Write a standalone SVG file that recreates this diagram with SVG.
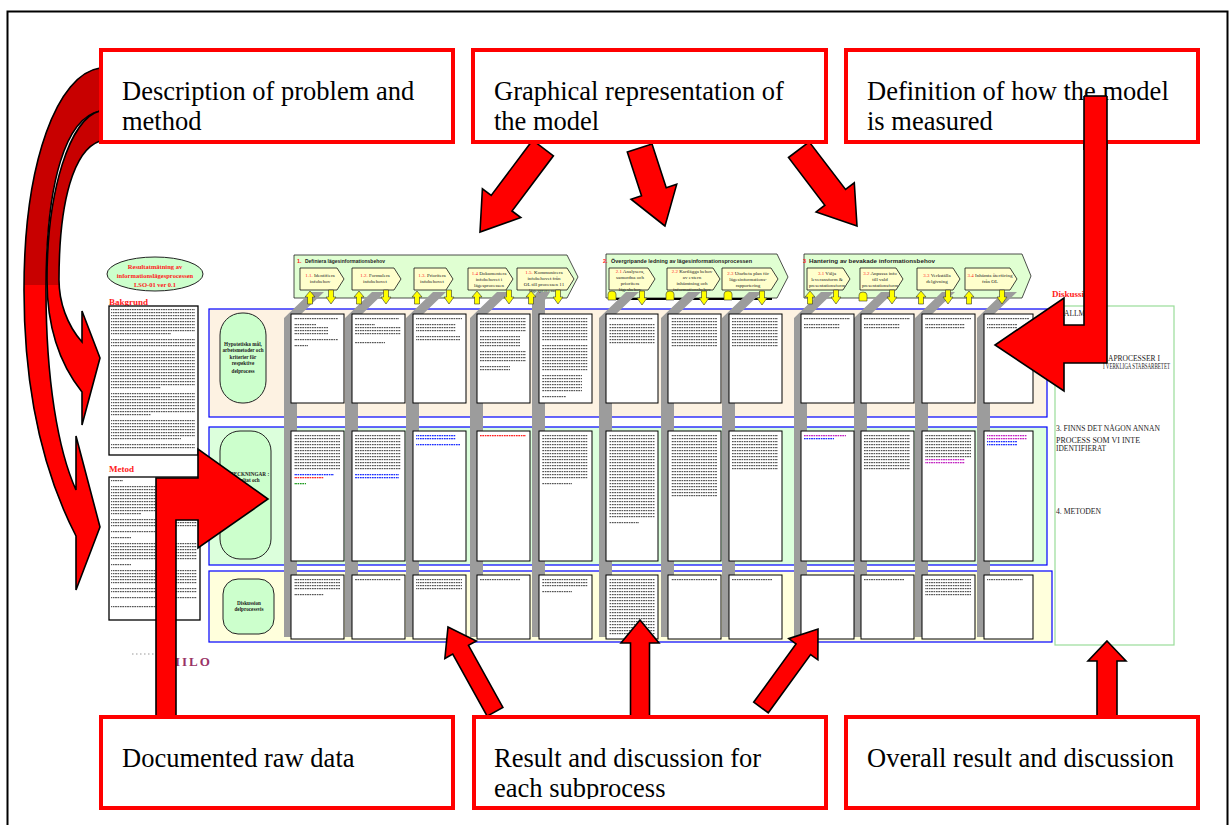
<svg xmlns="http://www.w3.org/2000/svg" width="1230" height="825" viewBox="0 0 1230 825">
  <defs>
    <!-- greeked text textures -->
    <pattern id="tk" width="2.4" height="3" patternUnits="userSpaceOnUse"><rect width="1.7" height="1.2" fill="#555"/></pattern>
    <pattern id="tb" width="2.4" height="3" patternUnits="userSpaceOnUse"><rect width="1.7" height="1.3" fill="#1a2cff"/></pattern>
    <pattern id="tr" width="2.4" height="3" patternUnits="userSpaceOnUse"><rect width="1.7" height="1.3" fill="#ff2020"/></pattern>
    <pattern id="tg" width="2.4" height="3" patternUnits="userSpaceOnUse"><rect width="1.7" height="1.3" fill="#1e9a1e"/></pattern>
    <pattern id="tm" width="2.4" height="3" patternUnits="userSpaceOnUse"><rect width="1.7" height="1.3" fill="#c020c0"/></pattern>
    <linearGradient id="curve" gradientUnits="userSpaceOnUse" x1="0" y1="0" x2="0" y2="825">
      <stop offset="0" stop-color="#c80000"/>
      <stop offset="0.345" stop-color="#c80000"/>
      <stop offset="0.345" stop-color="#ff0000"/>
      <stop offset="1" stop-color="#ff0000"/>
    </linearGradient>
    <path id="ua" d="M0,0 L5,6 L2.5,6 L2.5,13 L-2.5,13 L-2.5,6 L-5,6 Z"/>
    <path id="da" d="M-2.5,0 L2.5,0 L2.5,7 L5,7 L0,14 L-5,7 L-2.5,7 Z"/>
    <path id="tab" d="M-4,9 L-4,3 Q-4,0 0,0 Q4,0 4,3 L4,9 Z"/>
    <clipPath id="clipSub"><rect x="474" y="719" width="350" height="80"/></clipPath>
  </defs>
  <style>
    .lbl{fill:#fff;stroke:#ff0000;stroke-width:4}
    .big{font-family:"Liberation Serif","Times New Roman",serif;font-size:26.5px;fill:#000}
    .ra{fill:#ff0000;stroke:#000;stroke-width:1.6;stroke-linejoin:miter}
    .t{fill:url(#tk)} .tb{fill:url(#tb)} .tr{fill:url(#tr)} .tg{fill:url(#tg)} .tm{fill:url(#tm)}
    .pg{fill:#fff;stroke:#000;stroke-width:1}
    .gb{fill:#9c9c9c}
    .row{stroke:#0000ff;stroke-width:1.2}
    .rh{fill:#ccffcc;stroke:#222;stroke-width:1}
    .grp{fill:#e0ffd2;stroke:#222;stroke-width:0.8}
    .sub{fill:#ffffcc;stroke:#111;stroke-width:0.8}
    .ya{fill:#ffff00;stroke:#333;stroke-width:0.6}
    .s5{font-family:"Liberation Serif","Times New Roman",serif;font-size:5px;fill:#222;text-anchor:middle}
    .h6{font-family:"Liberation Sans",Arial,sans-serif;font-size:5.5px;fill:#222;font-weight:bold}
    .rd{fill:#ff2020}
    .rl{font-family:"Liberation Serif","Times New Roman",serif;font-size:5.2px;font-weight:bold;fill:#222;text-anchor:middle}
    .sec{font-family:"Liberation Serif","Times New Roman",serif;font-size:9px;font-weight:bold;fill:#ff2020}
    .dk{font-family:"Liberation Serif","Times New Roman",serif;font-size:7.5px;fill:#222}
  </style>

  <!-- frame -->
  <rect x="7.5" y="11.5" width="1220" height="830" fill="#fff" stroke="#000" stroke-width="2"/>

  <!-- title ellipse and text columns on the left -->
  <g id="title">
    <ellipse cx="155" cy="274" rx="48" ry="17" fill="#ccffcc" stroke="#222" stroke-width="1"/>
    <text x="155" y="269" class="rl" style="fill:#ff2020;font-size:6.5px">Resultatmätning av</text>
    <text x="155" y="278" class="rl" style="fill:#ff2020;font-size:6.5px">informationslägesprocessen</text>
    <text x="155" y="286.5" class="rl" style="fill:#ff2020;font-size:6.5px">LSO-01 ver 0.1</text>
  </g>
  <g id="bakgrund">
    <text x="109" y="305" class="sec">Bakgrund</text>
    <rect x="109" y="306" width="89" height="149" fill="#fff" stroke="#000" stroke-width="1.3"/>
    <rect class="t" x="111" y="309" width="84" height="24"/>
    <rect class="t" x="111" y="333" width="60" height="3"/>
    <rect class="t" x="111" y="339" width="84" height="9"/>
    <rect class="t" x="111" y="351" width="84" height="36"/>
    <rect class="t" x="111" y="387" width="50" height="3"/>
    <rect class="t" x="111" y="393" width="84" height="21"/>
    <rect class="t" x="111" y="414" width="40" height="3"/>
    <rect class="t" x="111" y="420" width="84" height="18"/>
    <rect class="t" x="111" y="438" width="70" height="3"/>
    <rect class="t" x="111" y="444" width="84" height="6"/>
  </g>
  <g id="metod">
    <text x="109" y="472" class="sec">Metod</text>
    <rect x="109" y="477" width="91" height="143" fill="#fff" stroke="#000" stroke-width="1.3"/>
    <rect class="t" x="111" y="480" width="12" height="3"/>
    <rect class="t" x="111" y="486" width="86" height="27"/>
    <rect class="t" x="111" y="513" width="30" height="3"/>
    <rect class="t" x="111" y="519" width="86" height="9"/>
    <rect class="t" x="111" y="531" width="60" height="3"/>
    <rect class="t" x="111" y="537" width="20" height="3"/>
    <rect class="t" x="111" y="543" width="86" height="18"/>
    <rect class="t" x="111" y="564" width="20" height="3"/>
    <rect class="t" x="111" y="570" width="86" height="15"/>
    <rect class="t" x="111" y="588" width="86" height="6"/>
    <rect class="t" x="111" y="597" width="86" height="3"/>
    <rect class="t" x="111" y="606" width="60" height="3"/>
  </g>
  <g id="logo">
    <line x1="132" y1="654" x2="165" y2="654" stroke="#999" stroke-width="1.2" stroke-dasharray="1.5 2.5"/>
    <text x="175" y="666" font-family="'Liberation Serif',serif" font-size="13" font-weight="bold" letter-spacing="2" fill="#993366">IILO</text>
  </g>

  <!-- swimlanes -->
  <g id="lanes">
    <rect class="row" x="209" y="309" width="838" height="108" fill="#fdf2e2"/>
    <rect class="row" x="209" y="427" width="838" height="138" fill="#dcffdc"/>
    <rect class="row" x="209" y="571" width="843" height="71" fill="#ffffdc"/>
  </g>
  <g id="lane-heads">
    <rect class="rh" x="220" y="313" width="46" height="90" rx="22" ry="22"/>
    <text class="rl" x="243" y="346">Hypotetiska mål,</text>
    <text class="rl" x="243" y="352">arbetsmetoder och</text>
    <text class="rl" x="243" y="359">kriterier för</text>
    <text class="rl" x="243" y="365">respektive</text>
    <text class="rl" x="243" y="373">delprocess</text>
    <rect class="rh" x="220" y="431" width="51" height="128" rx="20" ry="20"/>
    <text class="rl" x="246" y="476">ANTECKNINGAR :</text>
    <text class="rl" x="246" y="482">Resultat och</text>
    <rect class="rh" x="223" y="579" width="51" height="55" rx="15" ry="15"/>
    <text class="rl" x="249" y="605">Diskussion</text>
    <text class="rl" x="249" y="611">delprocessvis</text>
  </g>

  <!-- process headers -->
  <g id="grp1">
    <path class="grp" d="M294,255 L567,255 L578,277 L567,298 L294,298 Z"/>
    <text class="h6" x="297" y="263"><tspan class="rd">1.</tspan></text>
    <text class="h6" x="305" y="263" textLength="80" lengthAdjust="spacingAndGlyphs">Definiera lägesinformationsbehov</text>
  </g>
  <g id="grp2">
    <path class="grp" d="M606,254 L777,254 L788,277 L777,298 L606,298 Z"/>
    <line x1="611" y1="299" x2="772" y2="299" stroke="#000" stroke-width="2"/>
    <text class="h6" x="603" y="263"><tspan class="rd">2.</tspan></text>
    <text class="h6" x="611" y="263" textLength="141" lengthAdjust="spacingAndGlyphs">Övergripande ledning av lägesinformationsprocessen</text>
  </g>
  <g id="grp3">
    <path class="grp" d="M804,254 L1022,254 L1031,276 L1022,298 L804,298 Z"/>
    <text class="h6" x="803" y="263"><tspan class="rd">3</tspan></text>
    <text class="h6" x="809" y="263" textLength="126" lengthAdjust="spacingAndGlyphs">Hantering av bevakade informationsbehov</text>
  </g>

  <!-- depth bars behind each column -->
  <g id="bars">
    <polygon class="gb" points="284,637 284,318 311,292 324,292 297,318 297,637"/>
    <polygon class="gb" points="345,637 345,318 372,292 385,292 358,318 358,637"/>
    <polygon class="gb" points="406,637 406,318 433,292 446,292 419,318 419,637"/>
    <polygon class="gb" points="470,637 470,318 497,292 510,292 483,318 483,637"/>
    <polygon class="gb" points="532,637 532,300 537,292 550,292 545,300 545,637"/>
    <polygon class="gb" points="599,637 599,318 626,292 639,292 612,318 612,637"/>
    <polygon class="gb" points="661,637 661,318 688,292 701,292 674,318 674,637"/>
    <polygon class="gb" points="722,637 722,318 749,292 762,292 735,318 735,637"/>
    <polygon class="gb" points="794,637 794,318 821,292 834,292 807,318 807,637"/>
    <polygon class="gb" points="854,637 854,318 881,292 894,292 867,318 867,637"/>
    <polygon class="gb" points="915,637 915,318 942,292 955,292 928,318 928,637"/>
    <polygon class="gb" points="977,637 977,318 1004,292 1017,292 990,318 990,637"/>
  </g>

  <!-- sub-process chevrons -->
  <g id="sub1-1"><path class="sub" d="M300,268 L337,268 L344,279 L337,290 L300,290 Z"/>
    <text class="s5" x="320" y="277"><tspan class="rd">1.1.</tspan> Identifiera</text><text class="s5" x="320" y="283">infobehov</text></g>
  <g id="sub1-2"><path class="sub" d="M352,268 L394,268 L401,279 L394,290 L352,290 Z"/>
    <text class="s5" x="375" y="277"><tspan class="rd">1.2.</tspan> Formulera</text><text class="s5" x="375" y="283">infobehovet</text></g>
  <g id="sub1-3"><path class="sub" d="M414,268 L446,268 L453,279 L446,290 L414,290 Z"/>
    <text class="s5" x="432" y="277"><tspan class="rd">1.3.</tspan> Prioritera</text><text class="s5" x="432" y="283">infobehovet</text></g>
  <g id="sub1-4"><path class="sub" d="M468,268 L506,268 L513,279 L506,290 L468,290 Z"/>
    <text class="s5" x="489" y="275"><tspan class="rd">1.4</tspan> Dokumentera</text><text class="s5" x="489" y="281">infobehovet i</text><text class="s5" x="489" y="287">lägesprocessen</text></g>
  <g id="sub1-5"><path class="sub" d="M517,268 L567,268 L574,279 L567,290 L517,290 Z"/>
    <text class="s5" x="544" y="274"><tspan class="rd">1.5.</tspan> Kommunicera</text><text class="s5" x="544" y="280">infobehovet från</text><text class="s5" x="544" y="286">OL till processen 11</text><text class="s5" x="544" y="292">lägesprocessen</text></g>
  <g id="sub2-1"><path class="sub" d="M609,268 L648,268 L655,279 L648,290 L609,290 Z"/>
    <text class="s5" x="630" y="273"><tspan class="rd">2.1</tspan> Analysera,</text><text class="s5" x="630" y="279">samordna och</text><text class="s5" x="630" y="285">prioritera</text><text class="s5" x="630" y="291">lägesbehov</text></g>
  <g id="sub2-2"><path class="sub" d="M667,268 L713,268 L720,279 L713,290 L667,290 Z"/>
    <text class="s5" x="692" y="273"><tspan class="rd">2.2</tspan> Kartlägga behov</text><text class="s5" x="692" y="279">av extern</text><text class="s5" x="692" y="285">inhämtning och</text><text class="s5" x="692" y="291">informationsbehov</text></g>
  <g id="sub2-3"><path class="sub" d="M722,268 L771,268 L778,279 L771,290 L722,290 Z"/>
    <text class="s5" x="748" y="275"><tspan class="rd">2.3</tspan> Utarbeta plan för</text><text class="s5" x="748" y="281">lägesinformations-</text><text class="s5" x="748" y="287">rapportering</text></g>
  <g id="sub3-1"><path class="sub" d="M807,268 L843,268 L850,279 L843,290 L807,290 Z"/>
    <text class="s5" x="827" y="275"><tspan class="rd">3.1</tspan> Välja</text><text class="s5" x="827" y="281">leveransform &amp;</text><text class="s5" x="827" y="287">presentationsform</text></g>
  <g id="sub3-2"><path class="sub" d="M860,268 L896,268 L903,279 L896,290 L860,290 Z"/>
    <text class="s5" x="880" y="275"><tspan class="rd">3.2</tspan> Anpassa info</text><text class="s5" x="880" y="281">till vald</text><text class="s5" x="880" y="287">presentationsform</text></g>
  <g id="sub3-3"><path class="sub" d="M917,268 L953,268 L960,279 L953,290 L917,290 Z"/>
    <text class="s5" x="937" y="277"><tspan class="rd">3.3</tspan> Verkställa</text><text class="s5" x="937" y="283">delgivning</text></g>
  <g id="sub3-4"><path class="sub" d="M965,268 L1010,268 L1017,279 L1010,290 L965,290 Z"/>
    <text class="s5" x="990" y="277"><tspan class="rd">3.4</tspan> Inhämta återföring</text><text class="s5" x="990" y="283">från OL</text></g>

  <!-- in/out markers under each sub-process -->
  <g id="io" class="ya">
    <use href="#ua" x="310" y="291"/><use href="#da" x="331" y="290"/>
    <use href="#ua" x="359" y="291"/><use href="#da" x="386" y="290"/>
    <use href="#ua" x="417" y="291"/><use href="#da" x="449" y="290"/>
    <use href="#ua" x="477" y="291"/><use href="#da" x="509" y="290"/>
    <use href="#ua" x="531" y="291"/><use href="#da" x="558" y="290"/>
    <use href="#tab" x="612" y="291"/><use href="#da" x="642" y="291"/>
    <use href="#tab" x="670" y="291"/><use href="#da" x="704" y="291"/>
    <use href="#tab" x="728" y="291"/><use href="#da" x="762" y="291"/>
    <use href="#ua" x="810" y="291"/><use href="#da" x="836" y="290"/>
    <use href="#tab" x="863" y="292"/><use href="#da" x="892" y="290"/>
    <use href="#ua" x="921" y="291"/><use href="#da" x="948" y="290"/>
    <use href="#ua" x="969" y="291"/><use href="#da" x="1002" y="290"/>
  </g>

  <!-- pages: row 1 -->
  <g id="pages-r1">
    <rect class="pg" x="291" y="314" width="53" height="89"/>
    <rect class="t" x="294" y="318" width="44" height="3"/><rect class="t" x="294" y="324" width="22" height="3"/><rect class="t" x="294" y="327" width="34" height="9"/><rect class="t" x="294" y="339" width="44" height="3"/><rect class="t" x="294" y="345" width="14" height="3"/>
    <rect class="pg" x="352" y="314" width="53" height="89"/>
    <rect class="t" x="355" y="318" width="44" height="3"/><rect class="t" x="355" y="324" width="20" height="3"/><rect class="t" x="355" y="327" width="46" height="9"/><rect class="t" x="355" y="342" width="30" height="3"/>
    <rect class="pg" x="413" y="314" width="53" height="89"/>
    <rect class="t" x="416" y="318" width="46" height="3"/><rect class="t" x="416" y="324" width="40" height="9"/><rect class="t" x="416" y="336" width="44" height="6"/>
    <rect class="pg" x="477" y="314" width="53" height="89"/>
    <rect class="t" x="480" y="318" width="46" height="15"/><rect class="t" x="480" y="336" width="40" height="12"/><rect class="t" x="480" y="351" width="46" height="12"/><rect class="t" x="480" y="366" width="30" height="6"/>
    <rect class="pg" x="539" y="314" width="53" height="89"/>
    <rect class="t" x="542" y="318" width="46" height="24"/><rect class="t" x="542" y="345" width="46" height="27"/><rect class="t" x="542" y="375" width="40" height="18"/><rect class="t" x="542" y="396" width="24" height="3"/>
    <rect class="pg" x="606" y="314" width="52" height="89"/>
    <rect class="t" x="609" y="317" width="44" height="3"/><rect class="t" x="609" y="323" width="46" height="21"/>
    <rect class="pg" x="668" y="314" width="53" height="89"/>
    <rect class="t" x="671" y="317" width="46" height="30"/>
    <rect class="pg" x="729" y="314" width="53" height="89"/>
    <rect class="t" x="732" y="317" width="46" height="30"/>
    <rect class="pg" x="801" y="314" width="53" height="89"/>
    <rect class="t" x="804" y="318" width="46" height="3"/><rect class="t" x="804" y="324" width="36" height="6"/>
    <rect class="pg" x="861" y="314" width="53" height="89"/>
    <rect class="t" x="864" y="318" width="46" height="3"/><rect class="t" x="864" y="324" width="36" height="6"/>
    <rect class="pg" x="922" y="314" width="53" height="89"/>
    <rect class="t" x="925" y="318" width="46" height="3"/><rect class="t" x="925" y="324" width="40" height="6"/>
    <rect class="pg" x="984" y="314" width="49" height="89"/>
    <rect class="t" x="987" y="318" width="42" height="3"/><rect class="t" x="987" y="324" width="30" height="6"/>
  </g>

  <!-- pages: row 2 -->
  <g id="pages-r2">
    <rect class="pg" x="291" y="431" width="53" height="130"/>
    <rect class="t" x="294" y="434" width="46" height="36"/><rect class="tb" x="294" y="473" width="40" height="3"/><rect class="tr" x="294" y="476" width="30" height="3"/><rect class="tg" x="294" y="482" width="12" height="3"/>
    <rect class="pg" x="352" y="431" width="53" height="130"/>
    <rect class="t" x="355" y="434" width="46" height="36"/><rect class="tb" x="355" y="473" width="44" height="6"/>
    <rect class="pg" x="413" y="431" width="53" height="130"/>
    <rect class="tb" x="416" y="434" width="40" height="6"/><rect class="tb" x="416" y="443" width="44" height="3"/>
    <rect class="pg" x="477" y="431" width="53" height="130"/>
    <rect class="tr" x="480" y="434" width="46" height="3"/>
    <rect class="pg" x="539" y="431" width="53" height="130"/>
    <rect class="t" x="542" y="434" width="46" height="45"/><rect class="t" x="542" y="482" width="30" height="3"/>
    <rect class="pg" x="606" y="431" width="52" height="130"/>
    <rect class="t" x="609" y="434" width="46" height="84"/><rect class="t" x="609" y="521" width="30" height="3"/>
    <rect class="pg" x="668" y="431" width="53" height="130"/>
    <rect class="t" x="671" y="434" width="46" height="63"/>
    <rect class="pg" x="729" y="431" width="53" height="130"/>
    <rect class="t" x="732" y="434" width="46" height="36"/>
    <rect class="pg" x="801" y="431" width="53" height="130"/>
    <rect class="tm" x="804" y="434" width="42" height="3"/><rect class="tb" x="804" y="437" width="30" height="3"/>
    <rect class="pg" x="861" y="431" width="53" height="130"/>
    <rect class="t" x="864" y="434" width="46" height="36"/>
    <rect class="pg" x="922" y="431" width="53" height="130"/>
    <rect class="t" x="925" y="434" width="46" height="24"/><rect class="tm" x="925" y="458" width="40" height="6"/>
    <rect class="pg" x="984" y="431" width="49" height="130"/>
    <rect class="tm" x="987" y="434" width="40" height="6"/><rect class="tb" x="987" y="440" width="30" height="6"/>
  </g>

  <!-- pages: row 3 -->
  <g id="pages-r3">
    <rect class="pg" x="291" y="575" width="53" height="64"/>
    <rect class="t" x="294" y="578" width="46" height="12"/><rect class="t" x="294" y="593" width="30" height="3"/>
    <rect class="pg" x="352" y="575" width="53" height="64"/>
    <rect class="t" x="355" y="578" width="46" height="3"/>
    <rect class="pg" x="413" y="575" width="53" height="64"/>
    <rect class="t" x="416" y="578" width="46" height="12"/>
    <rect class="pg" x="477" y="575" width="53" height="64"/>
    <rect class="t" x="480" y="578" width="40" height="3"/>
    <rect class="pg" x="539" y="575" width="53" height="64"/>
    <rect class="t" x="542" y="578" width="46" height="9"/><rect class="t" x="542" y="590" width="30" height="3"/>
    <rect class="pg" x="606" y="575" width="52" height="64"/>
    <rect class="t" x="609" y="578" width="46" height="57"/>
    <rect class="pg" x="668" y="575" width="53" height="64"/>
    <rect class="t" x="671" y="578" width="46" height="3"/>
    <rect class="pg" x="729" y="575" width="53" height="64"/>
    <rect class="t" x="732" y="578" width="40" height="3"/>
    <rect class="pg" x="801" y="575" width="53" height="64"/>
    <rect class="pg" x="861" y="575" width="53" height="64"/>
    <rect class="t" x="864" y="578" width="40" height="3"/>
    <rect class="pg" x="922" y="575" width="53" height="64"/>
    <rect class="t" x="925" y="578" width="46" height="18"/>
    <rect class="pg" x="984" y="575" width="49" height="64"/>
    <rect class="t" x="987" y="578" width="36" height="3"/>
  </g>

  <!-- discussion column -->
  <g id="diskussion">
    <text x="1052" y="297" class="sec">Diskussion</text>
    <rect x="1055" y="306" width="119" height="339" fill="#fff" stroke="#99dd99" stroke-width="1.2"/>
    <text class="dk" x="1064" y="316">ALLMÄNT</text>
    <text class="dk" x="1108" y="361">APROCESSER I</text>
    <text class="dk" x="1103" y="369" textLength="67" lengthAdjust="spacingAndGlyphs">I VERKLIGA STABSARBETET</text>
    <text class="dk" x="1056" y="431" textLength="104" lengthAdjust="spacingAndGlyphs">3. FINNS DET NÅGON ANNAN</text>
    <text class="dk" x="1056" y="443" textLength="84" lengthAdjust="spacingAndGlyphs">PROCESS SOM VI INTE</text>
    <text class="dk" x="1056" y="451" textLength="50" lengthAdjust="spacingAndGlyphs">IDENTIFIERAT</text>
    <text class="dk" x="1056" y="514" textLength="45" lengthAdjust="spacingAndGlyphs">4. METODEN</text>
  </g>

  <!-- connectors: callout arrows -->
  <g id="connectors">
    <path fill="url(#curve)" stroke="#000" stroke-width="1.6" d="M100,68 C58,74 24,160 24,290 C24,390 42,470 76,536 L76,590 L100,527 L76,436 L76,490 C58,450 46,380 46,290 C46,180 66,118 100,111 Z"/>
    <path fill="url(#curve)" stroke="#000" stroke-width="1.6" d="M100,111 C70,118 47,190 47,280 C47,325 58,362 82,392 L82,425 L100,358 L82,311 L82,342 C67,325 59,302 59,280 C59,200 74,150 100,141 Z"/>
    <path class="ra" transform="translate(480,232) rotate(-143.13)" d="M0,0 L24,36 L13,36 L13,105 L-13,105 L-13,36 L-24,36 Z"/>
    <path class="ra" transform="translate(665,226) rotate(162)" d="M0,0 L24,36 L13,36 L13,82 L-13,82 L-13,36 L-24,36 Z"/>
    <path class="ra" transform="translate(857,226) rotate(142.7)" d="M0,0 L24,36 L13,36 L13,96 L-13,96 L-13,36 L-24,36 Z"/>
    <path class="ra" d="M1084,96 L1107,96 L1107,363 L1064,363 L1064,391 L995,345 L1064,298 L1064,325 L1084,325 Z"/>
    <path class="ra" d="M156,716 L156,478 L198,478 L198,449 L268,499 L198,548 L198,520 L176,520 L176,716 Z"/>
    <path class="ra" transform="translate(448,627) rotate(-29)" d="M0,0 L18,26 L9,26 L9,97 L-9,97 L-9,26 L-18,26 Z"/>
    <path class="ra" transform="translate(640,620)" d="M0,0 L19,23 L9.5,23 L9.5,96 L-9.5,96 L-9.5,23 L-19,23 Z"/>
    <path class="ra" transform="translate(818,629) rotate(36)" d="M0,0 L18,25 L9,25 L9,97 L-9,97 L-9,25 L-18,25 Z"/>
    <path class="ra" transform="translate(1107,641)" d="M0,0 L19,20 L10,20 L10,75 L-10,75 L-10,20 L-19,20 Z"/>
  </g>

  <!-- callout labels -->
  <g id="lbl-problem">
    <rect class="lbl" x="101" y="50" width="352" height="92"/>
    <text class="big" x="122" y="100">Description of problem and</text>
    <text class="big" x="122" y="130">method</text>
  </g>
  <g id="lbl-graphical">
    <rect class="lbl" x="473" y="50" width="353" height="92"/>
    <text class="big" x="494" y="100">Graphical representation of</text>
    <text class="big" x="494" y="130">the model</text>
  </g>
  <g id="lbl-measured">
    <rect class="lbl" x="846" y="50" width="352" height="92"/>
    <text class="big" x="867" y="100">Definition of how the model</text>
    <text class="big" x="867" y="130">is measured</text>
  </g>
  <!-- shaft of the bent arrow sits over its label box -->
  <path class="ra" d="M1084,96 L1107,96 L1107,150 L1084,150 Z" style="stroke:none"/>
  <line x1="1084" y1="96" x2="1107" y2="96" stroke="#000" stroke-width="1.6"/>
  <line x1="1084" y1="96" x2="1084" y2="150" stroke="#000" stroke-width="1.6"/>
  <line x1="1107" y1="96" x2="1107" y2="150" stroke="#000" stroke-width="1.6"/>

  <g id="lbl-raw">
    <rect class="lbl" x="101" y="717" width="352" height="91"/>
    <text class="big" x="122" y="767">Documented raw data</text>
  </g>
  <g id="lbl-sub">
    <rect class="lbl" x="474" y="717" width="352" height="91"/>
    <g clip-path="url(#clipSub)">
      <text class="big" x="494" y="767">Result and discussion for</text>
      <text class="big" x="494" y="797">each subprocess</text>
    </g>
  </g>
  <g id="lbl-overall">
    <rect class="lbl" x="846" y="717" width="352" height="91"/>
    <text class="big" x="867" y="767">Overall result and discussion</text>
  </g>
</svg>
